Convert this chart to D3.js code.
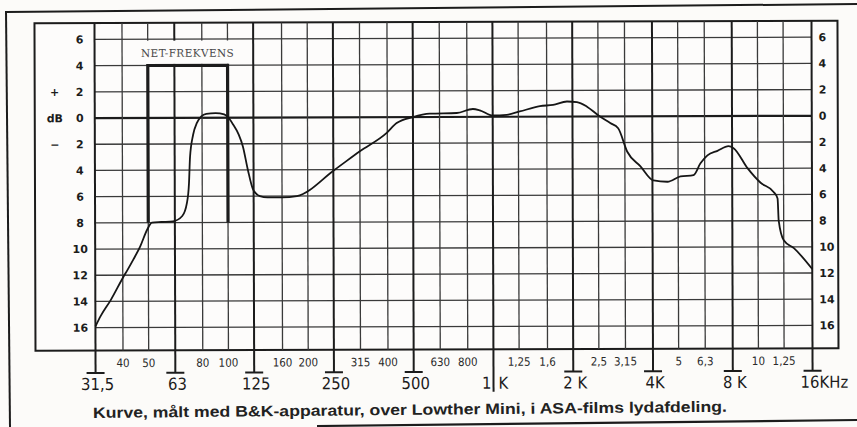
<!DOCTYPE html>
<html>
<head>
<meta charset="utf-8">
<script src="https://cdn.jsdelivr.net/npm/d3@7"></script>
<style>
  html, body { margin: 0; padding: 0; background: #fcfbf9; }
  svg { display: block; }
</style>
</head>
<body>
<svg id="chart" width="857" height="427"></svg>
<script>
// ---------- data ----------
const octaveFreqs  = [31.5, 63, 125, 250, 500, 1000, 2000, 4000, 8000, 16000];
const octaveLabels = ["31,5", "63", "125", "250", "500", "1 K", "2 K", "4K", "8 K", "16KHz"];
const thirdFreqs   = [40, 50, 80, 100, 160, 200, 315, 400, 630, 800, 1250, 1600, 2500, 3150, 5000, 6300, 10000, 12500];
const thirdLabels  = ["40", "50", "80", "100", "160", "200", "315", "400", "630", "800", "1,25", "1,6", "2,5", "3,15", "5", "6,3", "10", "1,25"];
const dbTicks      = [6, 4, 2, 0, -2, -4, -6, -8, -10, -12, -14, -16];
const dbTickLabels = ["6", "4", "2", "0", "2", "4", "6", "8", "10", "12", "14", "16"];
const signLabels   = ["+", "dB", "−"];
const signLevels   = [2, 0, -2];

const curveFreq = [31.5, 33, 36, 40.3, 41.7, 43.9, 46.6, 49.6, 51.6, 56, 62, 67.2, 70, 71.3, 72, 74, 76.5, 79.5, 83, 90, 97, 100,
  104.6, 110, 114, 119, 124.5, 132, 141, 160, 182, 253, 315, 398, 434, 500, 579, 732, 842, 894, 1001, 1130, 1265,
  1508, 1690, 1907, 2080, 2270, 2500, 2776, 2974, 3217, 3600, 4036, 4560, 5104, 5715, 6075, 6456, 7046, 7757,
  8102, 9155, 10240, 11460, 11860, 11970, 12500, 13650, 16000];
const curveDb = [-15.9, -15.1, -13.9, -12.1, -11.6, -10.8, -9.8, -8.5, -8.0, -7.95, -7.9, -7.5, -6.5, -5.0, -3.0, -1.3, -0.4, 0.1, 0.3, 0.35, 0.25, 0.05,
  -0.5, -1.3, -2.2, -4.0, -5.5, -6.0, -6.1, -6.1, -6.0, -4.0, -2.6, -1.2, -0.45, 0.0, 0.25, 0.3, 0.6, 0.5, 0.1, 0.15, 0.4,
  0.8, 0.9, 1.15, 1.1, 0.75, 0.1, -0.5, -0.9, -2.7, -3.8, -4.9, -5.0, -4.6, -4.5, -3.6, -3.0, -2.65, -2.3,
  -2.45, -4.0, -5.1, -5.8, -6.3, -8.0, -9.5, -10.1, -11.7];

const netBandFreq = [50, 100];
const netBandDb   = [4, -8];
const netLabelDb  = 6;
const netLabel    = "NET-FREKVENS";
const caption     = "Kurve, målt med B&K-apparatur, over Lowther Mini, i ASA-films lydafdeling.";

// ---------- layout ----------
const svg = d3.select("#chart");
const ink = "#1c1c1c";
const box = { left: 35, right: 838, top: 22, bottom: 349.5 };

const x = d3.scaleLog().domain([31.5, 16000]).range([95, 812]);
const y = d3.scaleLinear().domain([6, -16]).range([38.4, 326.6]);

// outer page frame
svg.append("line").attr("x1", 6).attr("y1", 12).attr("x2", 857).attr("y2", 4)
  .attr("stroke", ink).attr("stroke-width", 2);
svg.append("line").attr("x1", 6).attr("y1", 11).attr("x2", 10).attr("y2", 427)
  .attr("stroke", ink).attr("stroke-width", 2);
svg.append("line").attr("x1", 317).attr("y1", 426).attr("x2", 857).attr("y2", 420)
  .attr("stroke", ink).attr("stroke-width", 2.2);

const g = svg.append("g").attr("transform", "rotate(-0.18, 430, 190)");

// inner box
g.append("rect").attr("x", box.left).attr("y", box.top)
  .attr("width", box.right - box.left).attr("height", box.bottom - box.top)
  .attr("fill", "#fdfcfb").attr("stroke", ink).attr("stroke-width", 2);

// horizontal grid
g.selectAll("line.hgrid").data(dbTicks).join("line").attr("class", "hgrid")
  .attr("x1", x(31.5)).attr("x2", x(16000))
  .attr("y1", d => y(d)).attr("y2", d => y(d))
  .attr("stroke", d => d === 0 ? ink : "#3a3a3a")
  .attr("stroke-width", d => d === 0 ? 2.2 : 1.3);

// vertical minor grid
g.selectAll("line.vminor").data(thirdFreqs).join("line").attr("class", "vminor")
  .attr("x1", d => x(d)).attr("x2", d => x(d))
  .attr("y1", box.top).attr("y2", box.bottom)
  .attr("stroke", "#3a3a3a").attr("stroke-width", 1.3);

// vertical octave lines (extend below the box to a tick bar)
g.selectAll("line.vmajor").data(octaveFreqs).join("line").attr("class", "vmajor")
  .attr("x1", d => x(d)).attr("x2", d => x(d))
  .attr("y1", box.top).attr("y2", (d, i) => i === 5 ? 392 : 372)
  .attr("stroke", ink).attr("stroke-width", 2);
g.selectAll("line.bar").data(octaveFreqs.filter((d, i) => i !== 5)).join("line").attr("class", "bar")
  .attr("x1", d => x(d) - 9).attr("x2", d => x(d) + 9)
  .attr("y1", 372).attr("y2", 372)
  .attr("stroke", ink).attr("stroke-width", 2);

// octave labels
const majorFont = "'Liberation Sans Narrow', 'DejaVu Sans Condensed', 'DejaVu Sans', sans-serif";
octaveFreqs.forEach((f, i) => {
  const lab = octaveLabels[i];
  if (i === 5) {
    const parts = lab.split(" ");
    g.append("text").attr("x", x(f) - 2).attr("y", 389).attr("text-anchor", "end")
      .attr("font-family", majorFont).attr("font-size", 16.5).attr("fill", ink).text(parts[0]);
    g.append("text").attr("x", x(f) + 5).attr("y", 389).attr("text-anchor", "start")
      .attr("font-family", majorFont).attr("font-size", 16.5).attr("fill", ink).text(parts[1]);
  } else if (i === octaveFreqs.length - 1) {
    g.append("text").attr("x", x(f) - 12).attr("y", 389).attr("text-anchor", "start")
      .attr("font-family", majorFont).attr("font-size", 16.5).attr("fill", ink).text(lab);
  } else {
    g.append("text").attr("x", x(f) + 2).attr("y", 389).attr("text-anchor", "middle")
      .attr("font-family", majorFont).attr("font-size", 16.5).attr("fill", ink).text(lab);
  }
});

// third-octave labels
g.selectAll("text.minor").data(thirdFreqs).join("text").attr("class", "minor")
  .attr("x", d => x(d)).attr("y", 366).attr("text-anchor", "middle")
  .attr("font-family", majorFont).attr("font-size", 11.5).attr("fill", "#2a2a2a")
  .text((d, i) => thirdLabels[i]);

// dB labels left and right
const yFont = "'DejaVu Sans', sans-serif";
g.selectAll("text.yl").data(dbTicks).join("text").attr("class", "yl")
  .attr("x", 80).attr("y", d => y(d) + 4).attr("text-anchor", "middle")
  .attr("font-family", yFont).attr("font-weight", "bold").attr("font-size", 11).attr("fill", ink)
  .text((d, i) => dbTickLabels[i]);
g.selectAll("text.yr").data(dbTicks).join("text").attr("class", "yr")
  .attr("x", 819).attr("y", d => y(d) + 4).attr("text-anchor", "start")
  .attr("font-family", yFont).attr("font-weight", "bold").attr("font-size", 11).attr("fill", ink)
  .text((d, i) => dbTickLabels[i]);
g.selectAll("text.sign").data(signLevels).join("text").attr("class", "sign")
  .attr("x", 55).attr("y", d => y(d) + 4).attr("text-anchor", "middle")
  .attr("font-family", yFont).attr("font-weight", "bold").attr("font-size", 11).attr("fill", ink)
  .text((d, i) => signLabels[i]);

// net-frequency band: blank patch for the label, then the band outline
const bx0 = x(netBandFreq[0]), bx1 = x(netBandFreq[1]);
g.append("rect").attr("x", bx0 - 6).attr("y", y(netLabelDb) + 1.5)
  .attr("width", bx1 - bx0 + 12).attr("height", y(netBandDb[0]) - y(netLabelDb) - 3)
  .attr("fill", "#fdfcfb");
const bandPath = d3.path();
bandPath.moveTo(bx0, y(netBandDb[1]));
bandPath.lineTo(bx0, y(netBandDb[0]));
bandPath.lineTo(bx1, y(netBandDb[0]));
bandPath.lineTo(bx1, y(netBandDb[1]));
g.append("path").attr("d", bandPath.toString()).attr("fill", "none")
  .attr("stroke", ink).attr("stroke-width", 3.2);
g.append("text").attr("x", (bx0 + bx1) / 2).attr("y", 56)
  .attr("text-anchor", "middle").attr("font-family", "'DejaVu Serif', 'Liberation Serif', serif")
  .attr("font-size", 10.5).attr("letter-spacing", 0.4).attr("fill", "#4a4a4a")
  .text(netLabel);

// response curve
const line = d3.line().x(d => x(d[0])).y(d => y(d[1])).curve(d3.curveMonotoneX);
g.append("path").datum(curveFreq.map((f, i) => [f, curveDb[i]]))
  .attr("d", line).attr("fill", "none").attr("stroke", "#161616").attr("stroke-width", 1.8)
  .attr("stroke-linejoin", "round");

// caption
svg.append("text").attr("x", 93).attr("y", 418)
  .attr("transform", "rotate(-0.57, 93, 418)")
  .attr("font-family", "'Liberation Sans', Arial, sans-serif").attr("font-weight", "bold")
  .attr("font-size", 15).attr("fill", "#222")
  .attr("textLength", 634).attr("lengthAdjust", "spacingAndGlyphs")
  .text(caption);
</script>
</body>
</html>
